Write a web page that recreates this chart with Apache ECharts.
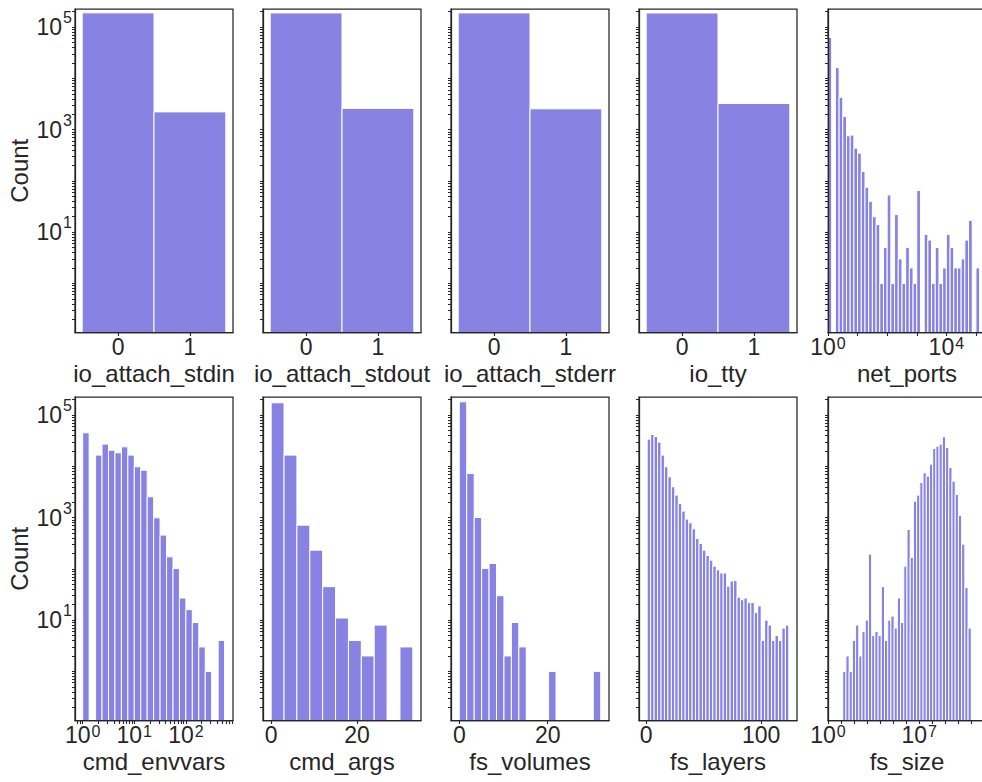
<!DOCTYPE html>
<html>
<head>
<meta charset="utf-8">
<script src="https://cdn.jsdelivr.net/npm/echarts@6/dist/echarts.min.js"></script>
<style>
html,body{margin:0;padding:0;background:#ffffff;}
#chart{width:982px;height:782px;}
</style>
</head>
<body>
<div id="chart"></div>
<script>
// ---------------- data ----------------
const binaryCategories = [0, 1];
const ioAttachStdinCounts  = [190000, 2220];
const ioAttachStdoutCounts = [189600, 2600];
const ioAttachStderrCounts = [189650, 2550];
const ioTtyCounts          = [188980, 3240];

// net_ports: 41 equal bins in log10 space from 10^0 to 10^5.125
const netPortsLogBinRange = [0, 5.125];
const netPortsCounts = [62800, 0, 16300, 4250, 1810, 759, 782, 436, 348, 153,
  75, 40, 20, 14, 1, 5, 53, 1, 22, 3,
  1, 5, 2, 1, 65, 0, 9, 7, 1, 5,
  1, 2, 9, 5, 2, 2, 3, 7, 17, 0, 2];

// cmd_envvars: 22 equal bins in log10 space from 10^0 to 10^2.75
const cmdEnvvarsLogBinRange = [0, 2.75];
const cmdEnvvarsCounts = [45200, 0, 16600, 27200, 20700, 18400, 24100, 16600, 9820, 8450,
  2550, 993, 456, 172, 102, 27, 16, 9, 3, 1, 0, 4];

// cmd_args: 11 bins from 0 to 33
const cmdArgsBinRange = [0, 33];
const cmdArgsCounts = [174000, 16600, 714, 232, 45, 11, 4, 2, 8, 0, 3];

// fs_volumes: 19 bins from 0 to 32
const fsVolumesBinRange = [0, 32];
const fsVolumesCounts = [182000, 7280, 1007, 102, 128, 30, 2, 9, 3, 0,
  0, 0, 1, 0, 0, 0, 0, 0, 1];

// fs_layers: 41 bins from 1 to 124
const fsLayersBinRange = [1, 124];
const fsLayersCounts = [34000, 42000, 38400, 29700, 16600, 9820, 6270, 4000, 2750, 1890,
  1340, 935, 793, 606, 392, 313, 232, 183, 148, 113,
  96, 83, 83, 46, 58, 59, 28, 25, 27, 22,
  22, 14, 19, 4, 10, 8, 4, 5, 4, 7, 8];

// fs_size: 40 equal bins in log10 space from 10^1.13 to 10^10.99
const fsSizeLogBinRange = [1.13, 10.99];
const fsSizeCounts = [1, 2, 1, 4, 8, 2, 6, 10, 194, 5,
  6, 5, 45, 4, 10, 12, 7, 27, 9, 113,
  587, 167, 2100, 2750, 4850, 7490, 6460, 11070, 22400, 24840,
  27170, 37760, 23390, 9530, 5150, 2830, 1100, 304, 43, 7];

// tick labels
const yTickLabels = [10, 1000, 100000];
const binaryTickLabels = [0, 1];
const netPortsTickLabels = [1, 10000];
const cmdEnvvarsTickLabels = [1, 10, 100];
const cmdArgsTickLabels = [0, 20];
const fsVolumesTickLabels = [0, 20];
const fsLayersTickLabels = [0, 100];
const fsSizeTickLabels = [1, 10000000];

// ---------------- style / layout ----------------
const FONT = '"Liberation Sans", Arial, Helvetica, sans-serif';
const TEXT = '#262626';
const SPINE = '#262626';
const BAR = '#8883e3';
const Y_MIN = 0.11, Y_MAX = 226000;
const LEFTS = [75, 263, 451, 639, 828];
const TOPS = [9, 397];
const W = 158, H = 323.5;

function linBins(range, counts) {
  const n = counts.length, w = (range[1] - range[0]) / n;
  const out = [];
  counts.forEach((c, i) => { if (c > 0) out.push([range[0] + i * w, range[0] + (i + 1) * w, c]); });
  return out;
}
function logBins(range, counts) {
  const n = counts.length, w = (range[1] - range[0]) / n;
  const out = [];
  counts.forEach((c, i) => { if (c > 0) out.push([Math.pow(10, range[0] + i * w), Math.pow(10, range[0] + (i + 1) * w), c]); });
  return out;
}
function catBins(cats, counts) {
  return cats.map((c, i) => [c - 0.5, c + 0.5, counts[i]]);
}
function subTicks(decadeFrom, decadeTo, lo, hi, withDecades) {
  const out = [];
  for (let d = decadeFrom; d <= decadeTo; d++) {
    const base = Math.pow(10, d);
    if (withDecades) out.push(base);
    for (let s = 2; s <= 9; s++) out.push(s * base);
  }
  return out.filter(v => v >= lo && v <= hi);
}

const yTicks = yTickLabels.concat(subTicks(-1, 5, Y_MIN, Y_MAX, false), [1, 100, 10000]);

const panels = [
  {name: 'io_attach_stdin', data: catBins(binaryCategories, ioAttachStdinCounts), type: 'value', min: -0.6, max: 1.6, labels: binaryTickLabels, minor: []},
  {name: 'io_attach_stdout', data: catBins(binaryCategories, ioAttachStdoutCounts), type: 'value', min: -0.6, max: 1.6, labels: binaryTickLabels, minor: []},
  {name: 'io_attach_stderr', data: catBins(binaryCategories, ioAttachStderrCounts), type: 'value', min: -0.6, max: 1.6, labels: binaryTickLabels, minor: []},
  {name: 'io_tty', data: catBins(binaryCategories, ioTtyCounts), type: 'value', min: -0.6, max: 1.6, labels: binaryTickLabels, minor: []},
  {name: 'net_ports', data: logBins(netPortsLogBinRange, netPortsCounts), type: 'log', min: 1, max: Math.pow(10, 5.34), labels: netPortsTickLabels, minor: [10, 100, 1000, 100000]},
  {name: 'cmd_envvars', data: logBins(cmdEnvvarsLogBinRange, cmdEnvvarsCounts), type: 'log', min: Math.pow(10, -0.149), max: Math.pow(10, 2.913), labels: cmdEnvvarsTickLabels, minor: subTicks(-1, 2, Math.pow(10, -0.149), Math.pow(10, 2.913), false)},
  {name: 'cmd_args', data: linBins(cmdArgsBinRange, cmdArgsCounts), type: 'value', min: -1.9, max: 34.9, labels: cmdArgsTickLabels, minor: []},
  {name: 'fs_volumes', data: linBins(fsVolumesBinRange, fsVolumesCounts), type: 'value', min: -1.88, max: 33.88, labels: fsVolumesTickLabels, minor: []},
  {name: 'fs_layers', data: linBins(fsLayersBinRange, fsLayersCounts), type: 'value', min: -6.1, max: 131.1, labels: fsLayersTickLabels, minor: []},
  {name: 'fs_size', data: logBins(fsSizeLogBinRange, fsSizeCounts), type: 'log', min: 1, max: Math.pow(10, 12.12), labels: fsSizeTickLabels, minor: [10, 100, 1000, 10000, 100000, 1000000, 1e8, 1e9, 1e10, 1e11, 1e12]}
];

// y labels: "10" centred on the tick, superscript raised
const yRich = {
  b: {fontSize: 23, fontFamily: FONT, color: TEXT, padding: [8, 0, 8, 0]},
  s: {fontSize: 16, fontFamily: FONT, color: TEXT, verticalAlign: 'top', padding: [2, 0, 0, 1]}
};
// x labels: compact box so it does not run into the axis name
const xRich = {
  b: {fontSize: 23, lineHeight: 16, fontFamily: FONT, color: TEXT, padding: [11, 0, 0, 0]},
  s: {fontSize: 16, lineHeight: 16, fontFamily: FONT, color: TEXT, verticalAlign: 'top', padding: [2, 0, 0, 1]}
};
function fmtLog(v) { return '{b|10}{s|' + Math.round(Math.log10(v)) + '}'; }
function fmtLin(v) { return '{b|' + v + '}'; }

const grids = [], xAxes = [], yAxes = [], series = [];
panels.forEach((p, i) => {
  const row = Math.floor(i / 5), col = i % 5;
  grids.push({left: LEFTS[col], top: TOPS[row], width: W, height: H, show: true,
    borderColor: SPINE, borderWidth: 1.25, backgroundColor: 'transparent',
    containLabel: false, outerBoundsMode: 'none'});
  const xa = {
    gridIndex: i, type: p.type, min: p.min, max: p.max, z: 3,
    name: p.name, nameLocation: 'middle', nameGap: 28.5, nameMoveOverlap: false,
    nameTextStyle: {fontSize: 24, color: TEXT, fontFamily: FONT},
    axisLine: {show: true, onZero: false, lineStyle: {color: SPINE, width: 1.25}},
    axisTick: {show: true, length: 3.5, lineStyle: {color: SPINE, width: 1.1}, customValues: p.labels.concat(p.minor)},
    axisLabel: {show: true, margin: 0.7, customValues: p.labels, formatter: p.type === 'log' ? fmtLog : fmtLin, rich: xRich},
    splitLine: {show: false}, minorTick: {show: false}
  };
  if (p.type === 'log') xa.logBase = 10;
  xAxes.push(xa);
  yAxes.push({
    gridIndex: i, type: 'log', logBase: 10, min: Y_MIN, max: Y_MAX, z: 3,
    name: col === 0 ? 'Count' : '', nameLocation: 'middle', nameGap: 44, nameRotate: 90, nameMoveOverlap: false,
    nameTextStyle: {fontSize: 24, color: TEXT, fontFamily: FONT},
    axisLine: {show: true, onZero: false, lineStyle: {color: SPINE, width: 1.25}},
    axisTick: {show: true, length: 3, lineStyle: {color: SPINE, width: 1}, customValues: yTicks},
    axisLabel: {show: col === 0, margin: 3, customValues: yTickLabels, formatter: fmtLog, rich: yRich},
    splitLine: {show: false}
  });
  series.push({
    type: 'custom', name: p.name, xAxisIndex: i, yAxisIndex: i, z: 2,
    data: p.data, encode: {x: [0, 1], y: 2},
    renderItem: function (params, api) {
      const tl = api.coord([api.value(0), api.value(2)]);
      const br = api.coord([api.value(1), Y_MIN]);
      return {type: 'rect', shape: {x: tl[0], y: tl[1], width: br[0] - tl[0], height: br[1] - tl[1]},
        style: {fill: BAR, stroke: '#ffffff', lineWidth: 1}};
    }
  });
});

const chart = echarts.init(document.getElementById('chart'), null, {renderer: 'svg'});
chart.setOption({
  animation: false,
  backgroundColor: '#ffffff',
  textStyle: {fontFamily: FONT, color: TEXT},
  grid: grids, xAxis: xAxes, yAxis: yAxes, series: series
});
</script>
</body>
</html>
